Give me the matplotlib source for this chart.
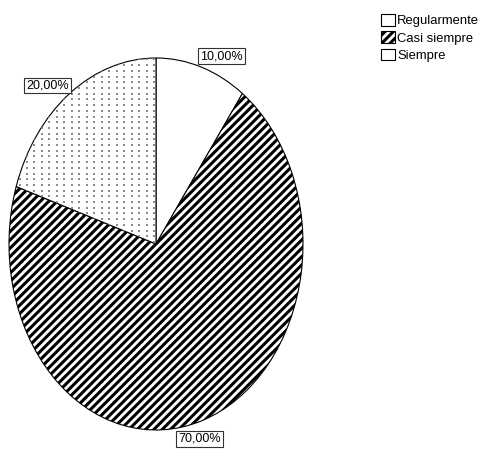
import numpy as np
import matplotlib
matplotlib.use("Agg")
import matplotlib.pyplot as plt
from matplotlib.patches import Patch

plt.rcParams['font.family'] = ['Liberation Sans', 'DejaVu Sans']
plt.rcParams['hatch.linewidth'] = 2.2

categories = ['Regularmente', 'Casi siempre', 'Siempre']
percentages = [10.0, 70.0, 20.0]
hatches = ['', '////', '']
# offsets (px) of each percentage box from the slice's outer rim
label_offsets = [(20, 11), (-2, -18), (-22, 8)]

W, H = 481, 449
fig = plt.figure(figsize=(W / 100, H / 100), dpi=100)
ax = fig.add_axes([9 / W, 19 / H, 294 / W, 372 / H])

wedges, _ = ax.pie(percentages, startangle=90, counterclock=False, radius=1,
                   colors=['white'] * 3,
                   wedgeprops=dict(edgecolor='black', linewidth=0.8))
for w, h in zip(wedges, hatches):
    w.set_hatch(h)

ax.set_aspect('auto')
ax.set_xlim(-1, 1)
ax.set_ylim(-1, 1)
ax.axis('off')

# dotted fill for "Siempre": columns of small grey dots clipped to the wedge
px_x, px_y = 294 / 2, 372 / 2
gx, gy = np.meshgrid(np.arange(-1, 1, 7.5 / px_x) + 3 / px_x,
                     np.arange(-1, 1, 5.7 / px_y))
dots = ax.scatter(gx.ravel(), gy.ravel(), s=2.0, marker='s', color='#8c8c8c',
                  linewidths=0, zorder=wedges[2].get_zorder() + 0.1)
dots.set_clip_path(wedges[2])

# percentage boxes
for w, pct, off in zip(wedges, percentages, label_offsets):
    mid = np.deg2rad((w.theta1 + w.theta2) / 2)
    ax.annotate(f"{pct:.2f}%".replace('.', ','),
                xy=(np.cos(mid), np.sin(mid)), xytext=off,
                textcoords='offset pixels', ha='center', va='center',
                fontsize=9, annotation_clip=False, zorder=5,
                bbox=dict(boxstyle='square,pad=0.15', facecolor='white',
                          edgecolor='#333333', linewidth=0.8))

handles = [Patch(facecolor='white', edgecolor='black', linewidth=0.8, hatch=h)
           for h in hatches]
fig.legend(handles, categories, loc='upper left',
           bbox_to_anchor=(372 / W, 1 - 5 / H), frameon=False,
           fontsize=9.4, handlelength=1.07, handleheight=1.0,
           handletextpad=0.15, labelspacing=0.3, borderpad=0.2)

fig.savefig('out.png', dpi=100)
